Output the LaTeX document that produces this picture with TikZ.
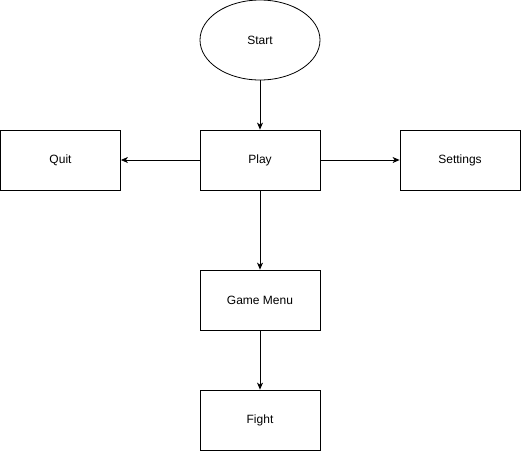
\documentclass[tikz,border=0pt]{standalone}
\usepackage{fontspec}
\setmainfont{Liberation Sans}
\usetikzlibrary{arrows.meta}
\usetikzlibrary{positioning, shapes.geometric}
\tikzset{
step box/.style = { rectangle, draw = black, fill = white, minimum width = 120pt, minimum height = 60pt, line width = 0.8pt, font = \fontsize{12}{14}\selectfont },
start oval/.style = { ellipse, draw = black, fill = white, minimum width = 120pt, minimum height = 80pt, line width = 0.8pt, font = \fontsize{12}{14}\selectfont },
}

\begin{document}
\begin{tikzpicture}[x=1pt, y=-1pt]
    \useasboundingbox (0,0) rectangle (521,451);
    \begin{scope}[every node/.style={inner sep=1.5pt}]
      \node[start oval] (start) at (260,40) {Start};
      \node[step box] (play) at (260,160) {Play};
      \node[step box] (quit) at (60.5,160) {Quit};
      \node[step box] (settings) at (460,160) {Settings};
      \node[step box] (menu) at (260,300) {Game Menu};
      \node[step box] (fight) at (260,420) {Fight};
    \end{scope}
    \begin{scope}[>={Stealth[black, length=7pt, width=6pt, inset=2pt]},
                  every edge/.style={draw=black, line width=0.8pt}]
      \path [->] (start) edge (play);
      \path [->] (play) edge (quit);
      \path [->] (play) edge (settings);
      \path [->] (play) edge (menu);
      \path [->] (menu) edge (fight);
    \end{scope}
  \end{tikzpicture}
\end{document}
